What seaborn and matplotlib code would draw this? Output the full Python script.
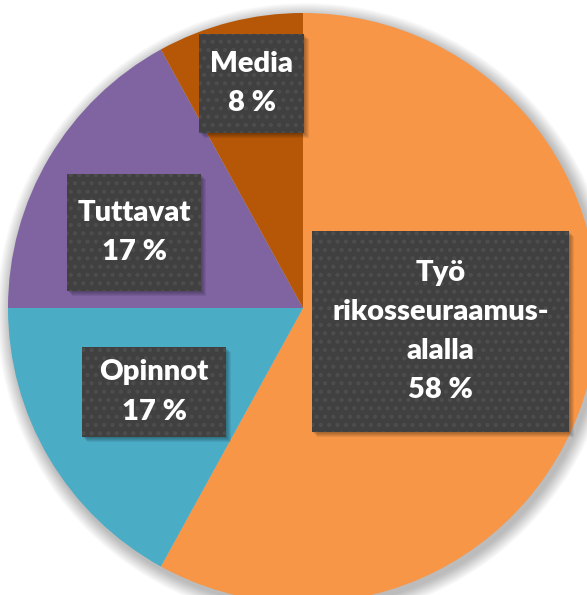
import matplotlib.pyplot as plt
import matplotlib.patches as mpatches
import seaborn as sns

# Data for the pie
categories = ["Työ\nrikosseuraamus-\nalalla", "Opinnot", "Tuttavat", "Media"]
shares = [58, 17, 17, 8]
slice_colors = ["#F79646", "#4BACC6", "#8064A2", "#B65708"]

# Label boxes (left, top, width, height) in pixels from the top-left corner
box_layout = [(312, 231, 257, 201), (82, 347, 144, 90), (67, 174, 134, 117), (199, 34, 105, 99)]

W, H = 587, 595
sns.set_theme(style="white")
plt.rcParams["font.family"] = ["Lato", "DejaVu Sans"]
plt.rcParams["hatch.linewidth"] = 1.8

fig = plt.figure(figsize=(W / 100, H / 100), dpi=100)
ax = fig.add_axes([0, 0, 1, 1])

cx, cy, r = 303, H - 308, 295

# soft shadow behind the pie
for i in range(14):
    ax.add_patch(mpatches.Circle((cx + 3, cy - 4), r + 14 - i, color="#000000",
                                 alpha=0.018, lw=0, zorder=0))

ax.pie(shares, colors=slice_colors, startangle=90, counterclock=False,
       center=(cx, cy), radius=r, wedgeprops=dict(linewidth=0))

for cat, val, (left, top, w, h) in zip(categories, shares, box_layout):
    x0, y0 = left, H - top - h
    for k in range(1, 6):
        ax.add_patch(mpatches.Rectangle((x0 + k, y0 - k), w, h, color="black",
                                        alpha=0.07, lw=0, zorder=3))
    ax.add_patch(mpatches.Rectangle((x0, y0), w, h, facecolor="#404040",
                                    edgecolor="#4d4d4d", hatch="..", lw=0, zorder=4))
    ax.text(x0 + w / 2, y0 + h / 2, f"{cat}\n{val} %", ha="center", va="center",
            color="white", fontsize=21, fontweight="heavy", linespacing=1.62, zorder=5)

ax.set_xlim(0, W)
ax.set_ylim(0, H)
ax.set_aspect("auto")
ax.axis("off")

fig.savefig("out.png", dpi=100)
